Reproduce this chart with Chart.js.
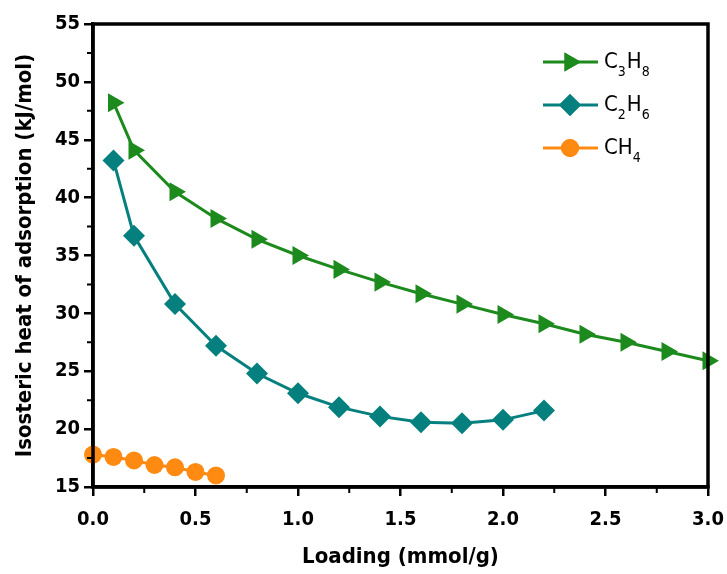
<!DOCTYPE html>
<html>
<head>
<meta charset="utf-8">
<script src="https://cdn.jsdelivr.net/npm/chart.js@4/dist/chart.umd.min.js"></script>
<style>
html,body{margin:0;padding:0;background:#fff;}
#wrap{width:727px;height:574px;}
</style>
</head>
<body>
<div id="wrap"><canvas id="c" width="727" height="574"></canvas></div>
<script>
const c3h8X = [0.1, 0.2, 0.4, 0.6, 0.8, 1.0, 1.2, 1.4, 1.6, 1.8, 2.0, 2.2, 2.4, 2.6, 2.8, 3.0];
const c3h8Y = [48.2, 44.1, 40.5, 38.2, 36.4, 35.0, 33.8, 32.7, 31.7, 30.8, 29.9, 29.1, 28.2, 27.5, 26.7, 25.9];
const c2h6X = [0.1, 0.2, 0.4, 0.6, 0.8, 1.0, 1.2, 1.4, 1.6, 1.8, 2.0, 2.2];
const c2h6Y = [43.2, 36.7, 30.8, 27.2, 24.8, 23.1, 21.9, 21.1, 20.6, 20.5, 20.8, 21.6];
const ch4X = [0.0, 0.1, 0.2, 0.3, 0.4, 0.5, 0.6];
const ch4Y = [17.8, 17.6, 17.3, 16.9, 16.7, 16.3, 16.0];
const xTicks = [0, 0.5, 1.0, 1.5, 2.0, 2.5, 3.0];
const yTicks = [15, 20, 25, 30, 35, 40, 45, 50, 55];
const legendNames = [["C", "3", "H", "8"], ["C", "2", "H", "6"], ["CH", "4"]];

const FONT = '"DejaVu Sans Condensed", "Liberation Sans Narrow", "Liberation Sans", sans-serif';
const GREEN = '#1c8a1c', TEAL = '#05807e', ORANGE = '#ff8a12';

const toPts = (xs, ys) => xs.map((x, i) => ({x: x, y: ys[i]}));

const framePlugin = {
  id: 'frame',
  afterDatasetsDraw(chart) {
    const {ctx, chartArea: a, scales} = chart;
    ctx.save();
    ctx.strokeStyle = '#000';
    ctx.lineWidth = 3.5;
    ctx.strokeRect(a.left, a.top, a.right - a.left, a.bottom - a.top);
    ctx.lineWidth = 2;
    ctx.beginPath();
    for (let i = 0; i < xTicks.length - 1; i++) {
      const px = scales.x.getPixelForValue((xTicks[i] + xTicks[i + 1]) / 2);
      ctx.moveTo(px, a.bottom); ctx.lineTo(px, a.bottom + 6);
    }
    for (let i = 0; i < yTicks.length - 1; i++) {
      const py = scales.y.getPixelForValue((yTicks[i] + yTicks[i + 1]) / 2);
      ctx.moveTo(a.left, py); ctx.lineTo(a.left - 6, py);
    }
    ctx.stroke();
    const lx = 543, ly0 = 62, gap = 43;
    chart.data.datasets.forEach((ds, i) => {
      const y = ly0 + i * gap;
      ctx.strokeStyle = ds.borderColor;
      ctx.lineWidth = 3;
      ctx.beginPath(); ctx.moveTo(lx, y); ctx.lineTo(lx + 55, y); ctx.stroke();
      ctx.fillStyle = ds.pointBackgroundColor;
      Chart.helpers.drawPoint(ctx, {pointStyle: ds.pointStyle, rotation: ds.rotation || 0, radius: ds.pointRadius, borderWidth: 0}, lx + 27, y);
      ctx.fill();
      let tx = lx + 61;
      ctx.fillStyle = '#000';
      ctx.textBaseline = 'middle';
      legendNames[i].forEach((part, j) => {
        const sub = j % 2 === 1;
        ctx.font = (sub ? '14px ' : '22px ') + FONT;
        ctx.fillText(part, tx, sub ? y + 10 : y);
        tx += ctx.measureText(part).width + (sub ? 1 : 0);
      });
    });
    ctx.restore();
  }
};

const mk = (label, pts, color, style, radius, rot) => ({
  label: label, data: pts, borderColor: color, backgroundColor: color,
  pointBackgroundColor: color, pointBorderColor: color, pointBorderWidth: 0,
  pointStyle: style, pointRadius: radius, pointHoverRadius: radius,
  rotation: rot, borderWidth: 3, tension: 0, clip: false, showLine: true
});

new Chart(document.getElementById('c'), {
  type: 'scatter',
  data: {
    datasets: [
      mk('C3H8', toPts(c3h8X, c3h8Y), GREEN, 'triangle', 11, 90),
      mk('C2H6', toPts(c2h6X, c2h6Y), TEAL, 'rectRot', 11, 0),
      mk('CH4', toPts(ch4X, ch4Y), ORANGE, 'circle', 9, 0)
    ]
  },
  options: {
    responsive: false,
    animation: false,
    devicePixelRatio: 1,
    layout: {padding: {top: 24, right: 19, left: 8, bottom: 0}},
    plugins: {legend: {display: false}, tooltip: {enabled: false}},
    scales: {
      x: {
        type: 'linear', min: 0, max: 3,
        afterBuildTicks: s => { s.ticks = xTicks.map(v => ({value: v})); },
        afterFit: s => { s.height = 87; s.paddingRight = 0; s.paddingLeft = 0; },
        grid: {display: true, drawOnChartArea: false, drawTicks: true, tickLength: 9, color: '#000', lineWidth: 2.5},
        border: {display: true, color: '#000', width: 3.5},
        ticks: {color: '#000', font: {family: FONT, size: 20, weight: 'bold'}, padding: 12,
                callback: v => Number(v).toFixed(1), maxRotation: 0},
        title: {display: true, text: 'Loading (mmol/g)', color: '#000',
                font: {family: FONT, size: 22, weight: 'bold'}, padding: {top: 8}}
      },
      y: {
        type: 'linear', min: 15, max: 55,
        afterBuildTicks: s => { s.ticks = yTicks.map(v => ({value: v})); },
        afterFit: s => { s.width = 85; s.paddingTop = 0; s.paddingBottom = 0; },
        grid: {display: true, drawOnChartArea: false, drawTicks: true, tickLength: 9, color: '#000', lineWidth: 2.5},
        border: {display: true, color: '#000', width: 3.5},
        ticks: {color: '#000', font: {family: FONT, size: 20, weight: 'bold'}, padding: 4},
        title: {display: true, text: 'Isosteric heat of adsorption (kJ/mol)', color: '#000',
                font: {family: FONT, size: 22, weight: 'bold'}, padding: {bottom: 4}}
      }
    }
  },
  plugins: [framePlugin]
});
</script>
</body>
</html>
